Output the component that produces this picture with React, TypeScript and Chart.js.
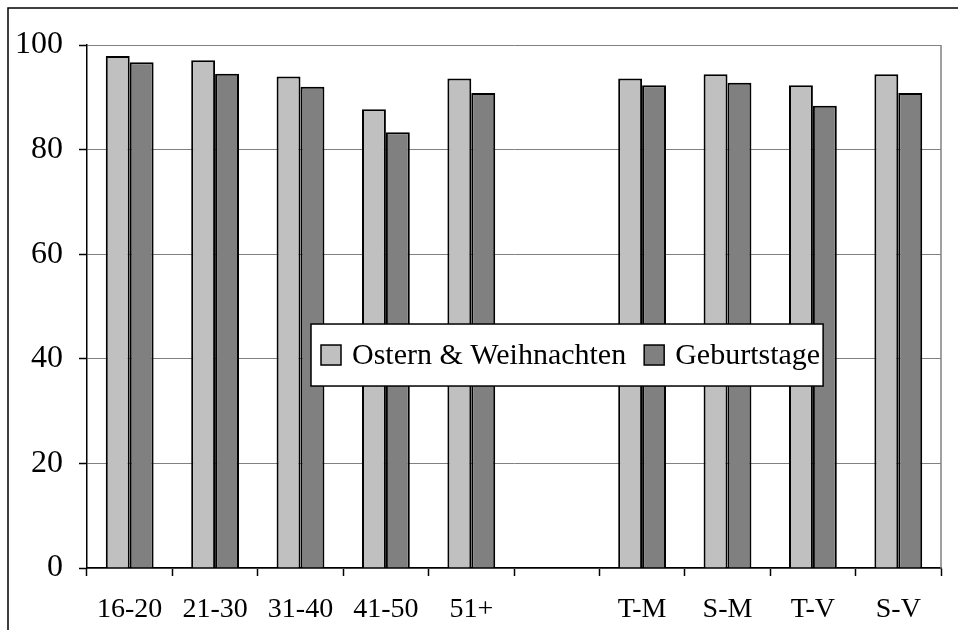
import { useEffect, useRef } from 'react';
import { Chart, registerables } from 'chart.js';

Chart.register(...registerables);

const categories = ['16-20', '21-30', '31-40', '41-50', '51+', '', 'T-M', 'S-M', 'T-V', 'S-V'];
const osternWeihnachten = [97.9, 97.1, 94.0, 87.7, 93.6, null, 93.6, 94.4, 92.3, 94.4];
const geburtstage = [96.7, 94.5, 92.0, 83.3, 90.8, null, 92.3, 92.8, 88.4, 90.8];
const seriesLabels = ['Ostern & Weihnachten', 'Geburtstage'];
const seriesColors = ['#c0c0c0', '#808080'];
const yMin = 0;
const yMax = 100;
const yStep = 20;

const SERIF = '"Liberation Serif", "Times New Roman", serif';

const framePlugin = {
  id: 'frameAndLegend',
  afterDraw(chart: any) {
    const ctx = chart.ctx as CanvasRenderingContext2D;
    const ca = chart.chartArea;
    ctx.save();
    // outer frame (top + left visible)
    ctx.strokeStyle = '#000';
    ctx.lineWidth = 1.5;
    ctx.beginPath();
    ctx.moveTo(8, chart.height);
    ctx.lineTo(8, 8);
    ctx.lineTo(chart.width, 8);
    ctx.stroke();
    // right border of plot area
    ctx.strokeStyle = '#808080';
    ctx.lineWidth = 1.5;
    ctx.beginPath();
    ctx.moveTo(ca.right, ca.top);
    ctx.lineTo(ca.right, ca.bottom);
    ctx.stroke();

    // legend box
    ctx.font = `30px ${SERIF}`;
    const ds = chart.data.datasets;
    const widths = ds.map((d: any) => ctx.measureText(d.label).width);
    const pad = 10, box = 20, gapT = 11, gapI = 18, padR = 3;
    let total = pad + padR;
    widths.forEach((w: number, i: number) => {
      total += box + gapT + w + (i > 0 ? gapI : 0);
    });
    const h = 62;
    const x0 = ca.left + (ca.right - ca.left) * 0.2623;
    const y0 = ca.top + (ca.bottom - ca.top) * 0.5335;
    ctx.fillStyle = '#fff';
    ctx.fillRect(x0, y0, total, h);
    ctx.strokeStyle = '#000';
    ctx.lineWidth = 1.5;
    ctx.strokeRect(x0, y0, total, h);
    let x = x0 + pad;
    const cy = y0 + h / 2;
    ds.forEach((d: any, i: number) => {
      if (i > 0) x += gapI;
      ctx.fillStyle = d.backgroundColor;
      ctx.fillRect(x, cy - box / 2, box, box);
      ctx.strokeStyle = '#000';
      ctx.lineWidth = 1.5;
      ctx.strokeRect(x, cy - box / 2, box, box);
      x += box + gapT;
      ctx.fillStyle = '#000';
      ctx.textBaseline = 'middle';
      ctx.textAlign = 'left';
      ctx.fillText(d.label, x, cy + 1);
      x += widths[i];
    });
    ctx.restore();
  },
};

export default function App() {
  const ref = useRef<HTMLCanvasElement | null>(null);
  useEffect(() => {
    if (!ref.current) return;
    const chart = new Chart(ref.current, {
      type: 'bar',
      data: {
        labels: categories,
        datasets: [
          {
            label: seriesLabels[0],
            data: osternWeihnachten,
            backgroundColor: seriesColors[0],
            borderColor: '#000',
            borderWidth: 2,
          },
          {
            label: seriesLabels[1],
            data: geburtstage,
            backgroundColor: seriesColors[1],
            borderColor: '#000',
            borderWidth: 2,
          },
        ],
      },
      options: {
        animation: false,
        responsive: false,
        maintainAspectRatio: false,
        layout: { padding: { top: 45, right: 17, bottom: 0, left: 0 } },
        datasets: { bar: { categoryPercentage: 0.56, barPercentage: 1.0 } },
        plugins: { legend: { display: false }, tooltip: { enabled: false } },
        scales: {
          x: {
            grid: {
              display: true,
              offset: true,
              drawOnChartArea: false,
              drawTicks: true,
              tickLength: 8,
              tickColor: '#000',
              tickWidth: 1.5,
            },
            border: { display: true, color: '#000', width: 1.5 },
            ticks: {
              color: '#000',
              font: { family: SERIF, size: 28 },
              padding: 17,
              autoSkip: false,
              maxRotation: 0,
            },
            afterFit(scale: any) {
              scale.height = 62;
            },
          },
          y: {
            min: yMin,
            max: yMax,
            grid: {
              color: '#808080',
              lineWidth: 1,
              drawTicks: true,
              tickLength: 8,
              tickColor: '#000',
              tickWidth: 1.5,
            },
            border: { display: true, color: '#000', width: 1.5 },
            ticks: {
              stepSize: yStep,
              color: '#000',
              font: { family: SERIF, size: 32 },
              padding: 16,
            },
            afterFit(scale: any) {
              scale.width = 87;
            },
          },
        },
      },
      plugins: [framePlugin],
    });
    return () => chart.destroy();
  }, []);
  return (
    <div style={{ position: 'fixed', left: 0, top: 0, width: 958, height: 630, background: '#fff' }}>
      <canvas ref={ref} width={958} height={630} style={{ display: 'block' }} />
    </div>
  );
}
